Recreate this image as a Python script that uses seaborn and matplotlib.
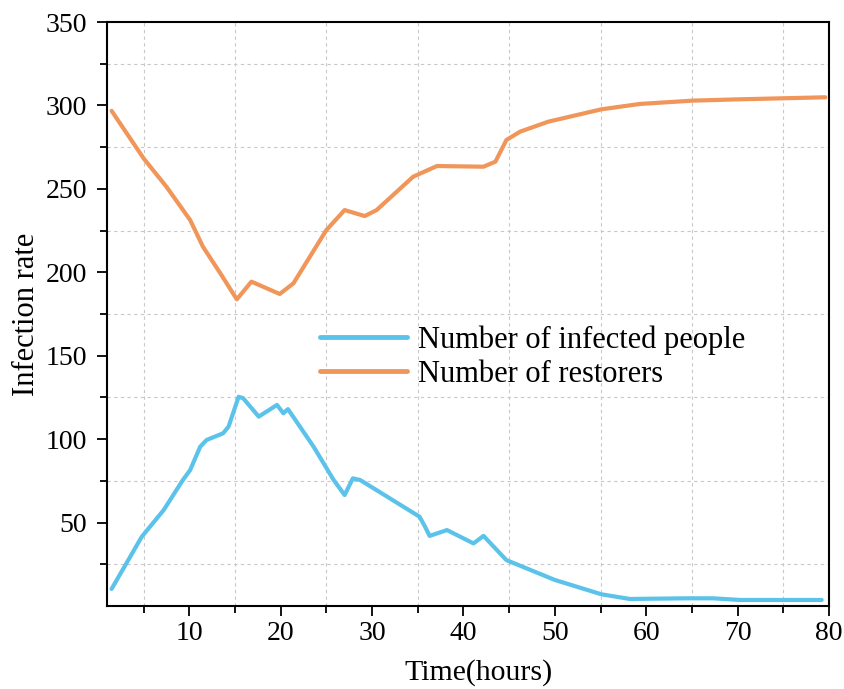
import numpy as np
import pandas as pd
import matplotlib
matplotlib.use("Agg")
import matplotlib.pyplot as plt
import seaborn as sns

# ---- data ----
infected_t = [1.5, 4.8, 7.2, 9.3, 10.1, 11.2, 11.9, 13.7, 14.3, 15.4, 15.9, 17.6,
              19.6, 20.3, 20.8, 23.6, 25.8, 27.0, 27.9, 28.7, 35.2, 35.8, 36.3,
              38.2, 41.1, 42.2, 44.7, 50.0, 55.1, 58.2, 64.4, 67.3, 70.3, 79.2]
infected_v = [10.2, 41.5, 57.5, 75.5, 81.5, 95.5, 99.5, 103.5, 107.5, 125.4, 124.5, 113.5,
              120.5, 115.5, 118.0, 95.5, 75.5, 66.5, 76.5, 75.5, 53.5, 47.5, 42.0,
              45.5, 37.5, 42.0, 27.5, 15.6, 7.0, 4.2, 4.6, 4.6, 3.6, 3.6]

restored_t = [1.5, 5.0, 7.5, 10.1, 11.5, 13.4, 15.2, 15.9, 16.8, 19.9, 21.4, 25.0,
              27.0, 29.2, 30.5, 34.5, 37.1, 42.2, 43.5, 44.7, 46.2, 49.3, 55.1,
              59.3, 65.1, 70.3, 79.6]
restored_v = [296.8, 268.3, 251.3, 231.3, 215.3, 199.4, 183.8, 188.4, 194.4, 187.0, 193.4, 225.3,
              237.3, 233.7, 237.3, 257.3, 263.7, 263.3, 266.3, 279.3, 284.3, 290.3, 297.7,
              300.9, 302.9, 303.7, 304.9]

series_names = ["Number of infected people", "Number of restorers"]
series_colors = ["#5BC3EA", "#F0965A"]

x_major = [10, 20, 30, 40, 50, 60, 70, 80]
x_minor = [5, 15, 25, 35, 45, 55, 65, 75]
y_major = [50, 100, 150, 200, 250, 300, 350]
y_minor = [25, 75, 125, 175, 225, 275, 325]

df = pd.concat([
    pd.DataFrame({"t": infected_t, "v": infected_v, "s": series_names[0]}),
    pd.DataFrame({"t": restored_t, "v": restored_v, "s": series_names[1]}),
], ignore_index=True)

sns.set_style("ticks")
plt.rcParams["font.family"] = ["Liberation Serif", "DejaVu Serif"]
plt.rcParams["text.color"] = "black"
plt.rcParams["axes.labelcolor"] = "black"
plt.rcParams["xtick.color"] = "black"
plt.rcParams["ytick.color"] = "black"

fig = plt.figure(figsize=(8.44, 6.89), dpi=100)
ax = fig.add_axes([0.1268, 0.1205, 0.8554, 0.8475])

sns.lineplot(data=df, x="t", y="v", hue="s", palette=dict(zip(series_names, series_colors)),
             sort=False, estimator=None, linewidth=3.0, ax=ax)
for ln in ax.get_lines():
    ln.set_solid_joinstyle("round")
    ln.set_solid_capstyle("round")

ax.set_xlim(1, 80)
ax.set_ylim(0, 350)
ax.set_xticks(x_major)
ax.set_xticks(x_minor, minor=True)
ax.set_yticks(y_major)
ax.set_yticks(y_minor, minor=True)
ax.tick_params(which="major", direction="out", length=7.5, width=1.3, labelsize=20,
               color="black", labelcolor="black")
ax.tick_params(which="minor", direction="out", length=5, width=1.3, color="black")
ax.tick_params(axis="y", which="major", pad=7)
ax.grid(which="minor", linestyle=(0, (3, 3)), color="#c8c8c8", linewidth=0.8)
ax.grid(which="major", visible=False)
for sp in ax.spines.values():
    sp.set_linewidth(1.5)
    sp.set_color("black")

ax.set_xlabel("Time(hours)", fontsize=21.5, labelpad=9, color="black")
ax.xaxis.label.set_x(0.514)
ax.set_ylabel("Infection rate", fontsize=22, labelpad=3, color="black")

leg = ax.legend(loc="upper left", bbox_to_anchor=(0.295, 0.480), frameon=False,
                fontsize=22, handlelength=2.85, handletextpad=0.36, labelspacing=0.15,
                borderpad=0, borderaxespad=0)
for txt in leg.get_texts():
    txt.set_color("black")
for line in leg.get_lines():
    line.set_linewidth(3.5)

fig.savefig("out.png", dpi=100)
